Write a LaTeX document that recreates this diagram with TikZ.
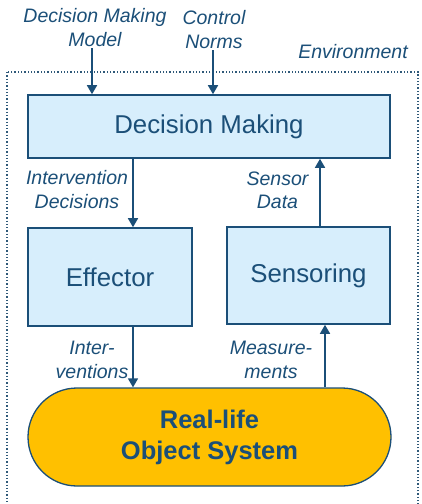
\documentclass[tikz,border=0pt]{standalone}
\usepackage{fontspec}
\setmainfont{Liberation Sans}
\usetikzlibrary{arrows.meta}
\definecolor{dkblue}{HTML}{1B4F78}
\definecolor{lblue}{HTML}{D7EEFC}
\definecolor{gold}{HTML}{FFC000}
\tikzset{
  blk/.style={draw=dkblue, line width=1.6pt, fill=lblue, text=dkblue, font=\fontsize{25.8}{30}\selectfont, inner sep=0pt},
  lbl/.style={text=dkblue, font=\fontsize{19.5}{23.5}\selectfont\itshape, align=center, inner sep=0pt},
  arr/.style={draw=dkblue, line width=1.6pt, -{Triangle[width=10pt,length=9pt]}},
  env/.style={draw=dkblue!80!gray, line width=1.3pt, dotted}
}
\begin{document}
\begin{tikzpicture}[x=1pt,y=-1pt]
\useasboundingbox (0,0) rectangle (422,504);
\begin{scope}
\clip (0,0) rectangle (422,504);
\draw[env] (7,72) rectangle (418,520);
\end{scope}
\node[lbl] (envl) at (353,52) {Environment};
\node[blk, minimum width=362pt, minimum height=63pt] (dm) at (209,126.5) {Decision Making};
\node[blk, minimum width=164pt, minimum height=98pt] (eff) at (110,277) {Effector};
\node[blk, minimum width=163pt, minimum height=97pt] (sen) at (308.5,275.5) {Sensoring};
\node[draw=dkblue, line width=1.3pt, fill=gold, rounded corners=49pt, minimum width=363pt, minimum height=98pt, text=dkblue, font=\fontsize{25.5}{31}\selectfont\bfseries, align=center, inner sep=0pt] (obj) at (209.5,437) {Real-life\\Object System};
\node[lbl] (dmm) at (95,27.5) {Decision Making\\Model};
\node[lbl] (cn) at (214,29.5) {Control\\Norms};
\node[lbl] (id) at (77,189.5) {Intervention\\Decisions};
\node[lbl] (sd) at (277.5,190.5) {Sensor\\Data};
\node[lbl] (iv) at (92,360) {Inter-\\ventions};
\node[lbl] (ms) at (271,360) {Measure-\\ments};
\coordinate (a1) at (92,48);
\coordinate (a2) at (213,50);
\draw[arr] (a1) -- (a1 |- dm.north);
\draw[arr] (a2) -- (a2 |- dm.north);
\draw[arr] (dm.south -| 133,0) -- (eff.north -| 133,0);
\draw[arr] (sen.north -| 320,0) -- (dm.south -| 320,0);
\draw[arr] (eff.south -| 133,0) -- (obj.north -| 133,0);
\draw[arr] (obj.north -| 325,0) -- (sen.south -| 325,0);
\end{tikzpicture}
\end{document}
